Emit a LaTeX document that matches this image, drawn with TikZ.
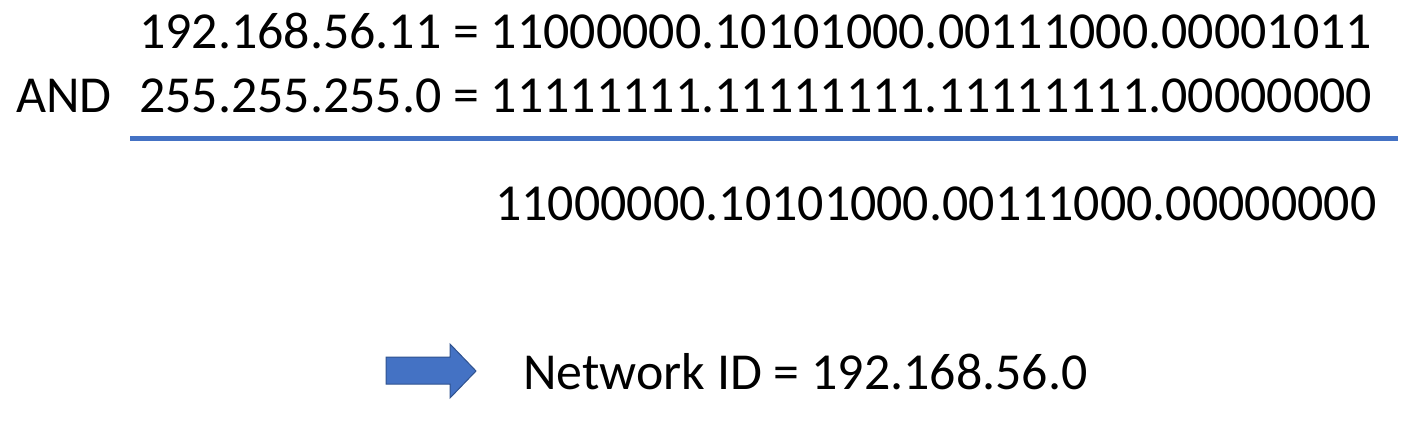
\documentclass[tikz,border=0pt]{standalone}
\usepackage{fontspec}
\setmainfont{Carlito}
\definecolor{accent}{HTML}{4472C4}
\definecolor{accentdark}{HTML}{2F528F}
\begin{document}
\begin{tikzpicture}[x=1pt,y=-1pt,
  txt/.style={inner sep=0pt,anchor=base west,font=\fontsize{51.9}{60}\selectfont},
  rule/.style={draw=accent,line width=5pt},
  bigarrow/.style={fill=accent,draw=accentdark,line width=1pt,line join=miter}]
\useasboundingbox (0,0) rectangle (1416,426);
\node[txt] (ip) at (139,48) {192.168.56.11 = 11000000.10101000.00111000.00001011};
\node[txt] (mask) at (139,112) {255.255.255.0 = 11111111.11111111.11111111.00000000};
\node[txt] (and) at (16,112) {AND};
\node[txt] (res) at (495,220) {11000000.10101000.00111000.00000000};
\node[txt] (net) at (523,389) {Network ID = 192.168.56.0};
\coordinate (ls) at (130,138);
\coordinate (le) at (1398,138);
\draw[rule] (ls) -- (le);
\path[bigarrow] (386,357) -- (450,357) -- (450,344) -- (476,371) -- (450,398) -- (450,384) -- (386,384) -- cycle;
\end{tikzpicture}
\end{document}
